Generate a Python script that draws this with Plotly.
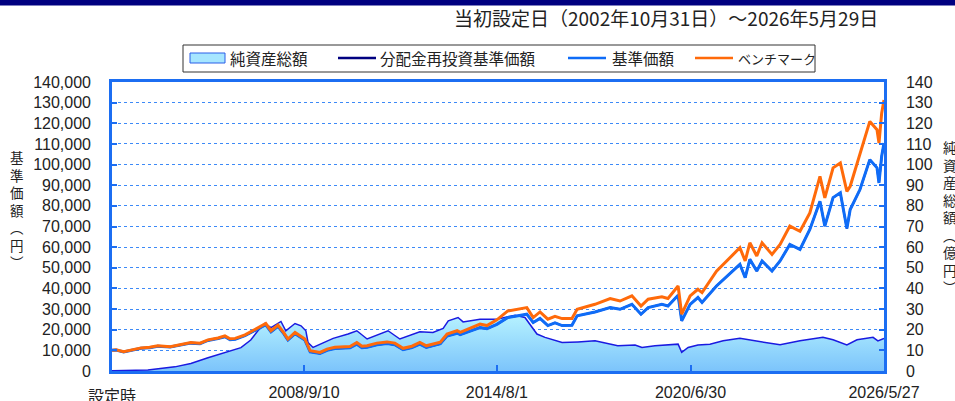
import plotly.graph_objects as go

# 基準価額・ベンチマーク（円）
nav_dates = [
    "2002-10-31", "2002-12-15", "2003-03-10", "2003-05-20", "2003-09-20", "2003-12-25",
    "2004-03-25", "2004-08-10", "2004-12-01", "2005-03-28", "2005-07-08", "2005-10-05",
    "2006-01-25", "2006-04-12", "2006-06-08", "2006-08-05", "2006-11-22", "2007-03-15",
    "2007-05-08", "2007-07-12", "2007-09-08", "2007-11-25", "2008-01-30", "2008-03-15",
    "2008-06-02", "2008-07-25", "2008-09-20", "2008-11-18", "2009-01-12", "2009-03-08",
    "2009-05-25", "2009-08-20", "2010-02-05", "2010-04-22", "2010-06-18", "2010-08-15",
    "2010-12-02", "2011-03-25", "2011-06-20", "2011-09-20", "2011-12-28", "2012-03-25",
    "2012-06-05", "2012-08-18", "2012-11-08", "2013-01-22", "2013-05-15", "2013-06-18",
    "2013-10-05", "2014-01-25", "2014-04-12", "2014-08-01", "2014-12-01", "2015-07-01",
    "2015-09-10", "2015-11-25", "2016-02-20", "2016-05-10", "2016-07-28", "2016-11-15",
    "2017-01-12", "2017-07-30", "2018-01-15", "2018-05-05", "2018-09-15", "2018-12-25",
    "2019-03-15", "2019-08-15", "2019-10-22", "2020-02-12", "2020-03-23", "2020-06-25",
    "2020-09-20", "2020-11-05", "2021-04-15", "2021-08-10", "2022-01-01", "2022-03-01",
    "2022-04-22", "2022-07-08", "2022-09-05", "2022-12-25", "2023-03-25", "2023-07-12",
    "2023-11-02", "2024-02-20", "2024-06-12", "2024-08-05", "2024-11-05", "2025-01-25",
    "2025-04-08", "2025-05-15", "2025-09-01", "2025-12-20", "2026-03-10", "2026-04-01",
    "2026-05-01", "2026-05-27",
]
bench = [
    10000, 10300, 9300, 10000, 11200, 11500,
    12200, 11800, 12800, 13800, 13500, 15100,
    16000, 17000, 15600, 15800, 17500, 20000,
    21500, 23000, 19500, 22200, 18500, 15500,
    18700, 17000, 15500, 9800, 9500, 9000,
    10600, 11500, 11900, 13800, 12000, 12200,
    13500, 14100, 13500, 11000, 12000, 13800,
    12200, 13000, 14000, 17900, 19500, 18700,
    20500, 22700, 22000, 24800, 29100, 30700,
    25900, 28600, 25100, 26500, 25400, 25400,
    29900, 32300, 35100, 33900, 36400, 31500,
    34800, 36000, 35100, 41200, 27500, 36400,
    39600, 38000, 48400, 53300, 59700, 53300,
    62100, 55700, 62100, 56500, 61300, 70200,
    67700, 76600, 94300, 83900, 98400, 100800,
    87000, 89500, 105600, 120900, 116900, 110400,
    124900, 131300,
]
nav = [
    10000, 10200, 9200, 9900, 11000, 11300,
    12000, 11600, 12600, 13500, 13200, 14800,
    15700, 16600, 15200, 15400, 17100, 19500,
    21000, 22400, 19000, 21600, 18000, 15000,
    18100, 16400, 15000, 9300, 9000, 8500,
    10000, 10900, 11200, 13000, 11300, 11500,
    12700, 13300, 12700, 10300, 11300, 13000,
    11400, 12200, 13200, 16900, 18300, 17600,
    19300, 21000, 20500, 22600, 25900, 27500,
    23500, 25500, 22000, 23300, 22000, 22200,
    26700, 28600, 30700, 29900, 32300, 27500,
    30700, 32300, 31500, 36700, 24300, 32300,
    35600, 33200, 41200, 46000, 51700, 45200,
    54100, 48400, 53300, 48400, 53300, 61300,
    58900, 68600, 82200, 70200, 84000, 86300,
    69000, 78200, 87900, 102400, 98400, 91100,
    104000, 110400,
]
# 分配金なし：分配金再投資基準価額は基準価額と同じ
nav_reinvest = nav

# 純資産総額（億円）
aum_dates = [
    "2002-10-31", "2003-05-20", "2003-12-05", "2004-10-01", "2005-03-28", "2005-10-05",
    "2006-04-12", "2006-10-08", "2007-01-25", "2007-04-15", "2007-07-01", "2007-09-08",
    "2007-12-28", "2008-02-20", "2008-06-02", "2008-08-08", "2008-10-01", "2008-10-25",
    "2008-12-20", "2009-05-01", "2009-08-01", "2010-01-15", "2010-04-22", "2010-08-15",
    "2011-01-05", "2011-04-05", "2011-08-15", "2012-03-25", "2012-08-18", "2012-12-10",
    "2013-02-05", "2013-05-25", "2013-07-20", "2014-01-25", "2014-08-01", "2015-02-20",
    "2015-06-10", "2015-08-28", "2015-10-22", "2016-01-20", "2016-07-28", "2017-01-22",
    "2017-07-30", "2018-04-10", "2018-10-20", "2019-01-05", "2019-05-30", "2020-02-12",
    "2020-03-23", "2020-06-03", "2020-09-20", "2021-02-01", "2021-06-28", "2022-01-01",
    "2022-07-08", "2023-03-25", "2023-11-02", "2024-07-15", "2024-11-05", "2025-04-08",
    "2025-07-30", "2026-01-25", "2026-03-20", "2026-05-27",
]
aum = [
    0.1, 0.2, 0.5, 2.0, 3.6, 6.4,
    8.8, 11.3, 15.0, 19.5, 23.0, 21.0,
    24.0, 19.5, 23.0, 21.9, 19.5, 13.8,
    11.4, 13.8, 15.8, 17.9, 19.5, 15.5,
    17.9, 19.5, 15.5, 19.0, 18.7, 20.6,
    24.3, 25.9, 23.8, 25.1, 25.1, 27.0,
    25.9, 21.1, 17.9, 16.3, 13.8, 14.1,
    14.6, 12.2, 12.6, 11.4, 12.2, 13.0,
    9.0, 11.4, 12.6, 13.0, 14.6, 15.8,
    14.6, 12.7, 14.6, 16.3, 15.1, 12.6,
    15.1, 16.3, 14.6, 15.8,
]

tick_dates = ["2002-10-31", "2008-09-10", "2014-08-01", "2020-06-30", "2026-05-27"]
tick_text = ["設定時", "2008/9/10", "2014/8/1", "2020/6/30", "2026/5/27"]

legend_names = ["純資産総額", "分配金再投資基準価額", "基準価額", "ベンチマーク"]

BLUE_AX = "#1c6ef2"
FONT = "Liberation Sans, Noto Sans CJK JP"
JP = "Noto Sans CJK JP"

fig = go.Figure()

fig.add_trace(go.Scatter(
    x=aum_dates, y=aum, name=legend_names[0], yaxis="y", mode="lines",
    line=dict(color="#1a1ae0", width=1.5),
    fill="tozeroy",
    fillgradient=dict(type="vertical", start=0, stop=28,
                      colorscale=[[0, "#7cc4fb"], [1, "#b8f4ff"]]),
))
fig.add_trace(go.Scatter(
    x=nav_dates, y=nav_reinvest, name=legend_names[1], yaxis="y2", mode="lines",
    line=dict(color="#000080", width=2),
))
fig.add_trace(go.Scatter(
    x=nav_dates, y=nav, name=legend_names[2], yaxis="y2", mode="lines",
    line=dict(color="#0f6cf7", width=3),
))
fig.add_trace(go.Scatter(
    x=nav_dates, y=bench, name=legend_names[3], yaxis="y2", mode="lines",
    line=dict(color="#ff6a0a", width=3),
))

# plot area: x 112..884, y 82..371
L, R, T, B = 112, 71, 82, 30
W, H = 955 - L - R, 401 - T - B


def px(xp):
    return (xp - L) / W


def py(yp):
    return (T + H - yp) / H


fig.update_layout(
    width=955, height=401,
    margin=dict(l=L, r=R, t=T, b=B, autoexpand=False),
    paper_bgcolor="white", plot_bgcolor="white",
    font=dict(family=FONT, size=16, color="#222"),
    showlegend=False,
    xaxis=dict(
        type="date", range=["2002-10-31", "2026-05-27"],
        tickvals=tick_dates, ticktext=[""] + tick_text[1:],
        ticks="inside", ticklen=6, tickwidth=2, tickcolor=BLUE_AX,
        showline=True, mirror=True, linecolor=BLUE_AX, linewidth=2.5,
        showgrid=False, zeroline=False, ticklabelstandoff=5, automargin=False,
    ),
    yaxis=dict(
        side="right", range=[0, 140], dtick=10,
        ticks="inside", ticklen=5, tickwidth=2, tickcolor=BLUE_AX,
        showline=True, mirror=True, linecolor=BLUE_AX, linewidth=2.5,
        showgrid=True, gridcolor="#3d8af7", griddash="dot", gridwidth=1,
        zeroline=False, ticklabelstandoff=16, automargin=False,
    ),
    yaxis2=dict(
        overlaying="y", side="left", range=[0, 140000], dtick=10000,
        tickformat=",d",
        ticks="inside", ticklen=5, tickwidth=2, tickcolor=BLUE_AX,
        showgrid=False, zeroline=False, showline=False,
        ticklabelstandoff=20, automargin=False,
    ),
)

# top band
fig.add_shape(type="rect", xref="paper", yref="paper",
              x0=px(-5), x1=px(960), y0=py(5.5), y1=py(-40),
              fillcolor="#000080", line_width=0, layer="above")

fig.add_annotation(
    text="当初設定日（2002年10月31日）～2026年5月29日",
    xref="paper", yref="paper", x=px(880), y=py(18),
    xanchor="right", yanchor="middle", showarrow=False,
    font=dict(family=JP, size=19, color="#222"),
)

# first x tick label sits a little lower in the reference
fig.add_annotation(text=tick_text[0], xref="paper", yref="paper",
                   x=px(112), y=py(396), xanchor="center", yanchor="middle",
                   showarrow=False, font=dict(family=FONT, size=16, color="#222"))

# legend (drawn by hand to keep the reference spacing)
fig.add_shape(type="rect", xref="paper", yref="paper",
              x0=px(183), x1=px(815), y0=py(72), y1=py(45),
              line=dict(color="#333", width=1), fillcolor="white")
fig.add_shape(type="rect", xref="paper", yref="paper",
              x0=px(190), x1=px(225), y0=py(63), y1=py(53),
              line=dict(color="#2a5ee8", width=1), fillcolor="#a6e6ff")
for x0, col in [(338, "#000080"), (568, "#0f6cf7"), (695, "#ff6a0a")]:
    fig.add_shape(type="line", xref="paper", yref="paper",
                  x0=px(x0), x1=px(x0 + 38), y0=py(58), y1=py(58),
                  line=dict(color=col, width=2.5))
for xt, name, fs in zip([228, 378, 610, 736], legend_names, [15.5, 15.5, 15.5, 13]):
    fig.add_annotation(text=name, xref="paper", yref="paper", x=px(xt), y=py(58),
                       xanchor="left", yanchor="middle", showarrow=False,
                       font=dict(family=JP, size=fs, color="#222"))

# vertical axis titles
fig.add_annotation(text="<br>".join("基準価額︵円︶"), xref="paper", yref="paper",
                   x=px(17), y=py(209), xanchor="center", yanchor="middle",
                   showarrow=False, font=dict(family=JP, size=13.5, color="#222"))
fig.add_annotation(text="<br>".join("純資産総額︵億円︶"), xref="paper", yref="paper",
                   x=px(950), y=py(217), xanchor="center", yanchor="middle",
                   showarrow=False, font=dict(family=JP, size=13.5, color="#222"))

# the page body has a default 8px margin; remove it so the chart sits at 0,0
fig.write_html("out.html", config={"displayModeBar": False},
               post_script="document.body.style.margin='0';")
